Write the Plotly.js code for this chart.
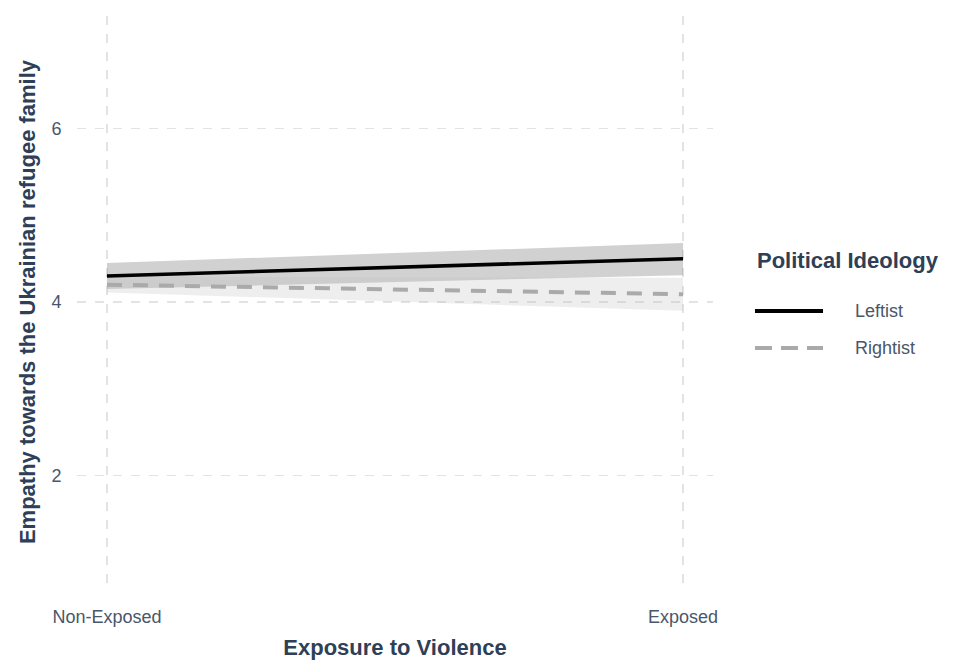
<!DOCTYPE html>
<html>
<head>
<meta charset="utf-8">
<script src="https://cdn.plot.ly/plotly-3.0.1.min.js"></script>
<style>html,body{margin:0;padding:0;background:#fff;}#chart{width:953px;height:660px;}</style>
</head>
<body>
<div id="chart"></div>
<script>
// Data
var categories = ["Non-Exposed", "Exposed"];
var xPos = [0, 1];
var seriesNames = ["Leftist", "Rightist"];
var leftistFit = [4.30, 4.50];
var leftistLow = [4.15, 4.31];
var leftistHigh = [4.45, 4.68];
var rightistFit = [4.20, 4.09];
var rightistLow = [4.11, 3.90];
var rightistHigh = [4.29, 4.28];
var yTicks = [2, 4, 6];

var titleColor = "#2E4057";
var tickColor = "#4A566A";
var fam = "Liberation Sans, Arial, sans-serif";

function ribbon(low, high, fill) {
  return {
    x: xPos.concat(xPos.slice().reverse()),
    y: high.concat(low.slice().reverse()),
    type: "scatter", mode: "lines", fill: "toself",
    fillcolor: fill, line: {width: 0, color: "rgba(0,0,0,0)"},
    hoverinfo: "skip", showlegend: false
  };
}

var traces = [
  ribbon(leftistLow, leftistHigh, "rgba(128,128,128,0.36)"),
  ribbon(rightistLow, rightistHigh, "rgba(190,190,190,0.26)"),
  {x: xPos, y: leftistFit, type: "scatter", mode: "lines", name: seriesNames[0],
   line: {color: "#000000", width: 3.5}, showlegend: false},
  {x: xPos, y: rightistFit, type: "scatter", mode: "lines", name: seriesNames[1],
   line: {color: "#AAAAAA", width: 4, dash: "15px,11px"}, showlegend: false}
];

var layout = {
  width: 953, height: 660,
  margin: {l: 77, r: 240, t: 16, b: 72},
  paper_bgcolor: "#ffffff", plot_bgcolor: "#ffffff",
  font: {family: fam, color: tickColor},
  xaxis: {
    range: [-0.052, 1.052], tickvals: xPos, ticktext: categories,
    showgrid: true, gridcolor: "#E3E3E3", griddash: "dash", gridwidth: 1.5,
    zeroline: false, showline: false,
    ticks: "outside", ticklen: 12, tickcolor: "rgba(0,0,0,0)",
    tickfont: {size: 18, color: tickColor},
    title: {text: "Exposure to Violence", standoff: 14,
            font: {size: 22, color: titleColor, family: fam, weight: "bold"}}
  },
  yaxis: {
    range: [0.7, 7.3], tickvals: yTicks,
    showgrid: true, gridcolor: "#E3E3E3", griddash: "dash", gridwidth: 1.5,
    zeroline: false, showline: false,
    ticks: "outside", ticklen: 11, tickcolor: "rgba(0,0,0,0)",
    tickfont: {size: 18, color: tickColor},
    title: {text: "Empathy towards the Ukrainian refugee family", standoff: 9,
            font: {size: 22, color: titleColor, family: fam, weight: "bold"}}
  },
  showlegend: false,
  shapes: [
    {type: "line", xref: "paper", yref: "paper", x0: 1.066, x1: 1.173, y0: 0.4843, y1: 0.4843,
     line: {color: "#000000", width: 4}},
    {type: "line", xref: "paper", yref: "paper", x0: 1.066, x1: 1.173, y0: 0.4196, y1: 0.4196,
     line: {color: "#AAAAAA", width: 4, dash: "17px,9px"}}
  ],
  annotations: [
    {xref: "paper", yref: "paper", x: 1.066, y: 0.5717, xanchor: "left", yanchor: "middle",
     text: "<b>Political Ideology</b>", showarrow: false,
     font: {size: 22, color: titleColor}},
    {xref: "paper", yref: "paper", x: 1.220, y: 0.4843, xanchor: "left", yanchor: "middle",
     text: seriesNames[0], showarrow: false, font: {size: 18, color: tickColor}},
    {xref: "paper", yref: "paper", x: 1.220, y: 0.4196, xanchor: "left", yanchor: "middle",
     text: seriesNames[1], showarrow: false, font: {size: 18, color: tickColor}}
  ]
};

Plotly.newPlot("chart", traces, layout, {displayModeBar: false, staticPlot: true});
</script>
</body>
</html>
